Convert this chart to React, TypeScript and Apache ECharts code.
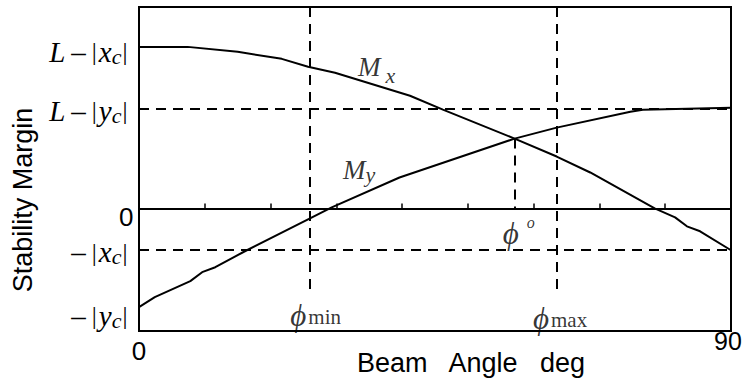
import React, { useEffect, useRef } from 'react';
import * as echarts from 'echarts';

const SERIF = "'Liberation Serif', 'Times New Roman', 'DejaVu Serif', serif";
const SANS = "'Liberation Sans', Arial, Helvetica, sans-serif";
const INK = '#000';

// Axis extents (beam angle in degrees, margin in drawing units)
const ANGLE_MIN = 0;
const ANGLE_MAX = 90;
const MARGIN_MIN = -123;
const MARGIN_MAX = 202;

// Reference margin levels
const L_MINUS_XC = 162; // L − |xc|
const L_MINUS_YC = 100; // L − |yc|
const MINUS_XC = -42;   // −|xc|
const MINUS_YC = -99;   // −|yc|

// Characteristic angles
const PHI_MIN = 26;
const PHI_MAX = 63.5;
const PHI_O = 57.1;
const CROSS_MARGIN = 70;   // where Mx meets My
const PHI_DASH_END = -81;  // lower end of the φmin / φmax guides

// Stability margin about x
const angleMx = [0, 7.4, 15, 21.7, 25.7, 29.8, 41.2, 46.2, 57.1, 63.5, 68.6, 78.4, 81.5, 83.3, 85.3, 90];
const marginMx = [162, 162, 157, 150, 142, 136, 113, 99, 70, 52, 36, 0, -9, -18, -23, -42];

// Stability margin about y
const angleMy = [0, 2.4, 7.8, 9.6, 11.6, 16.1, 26.0, 29.3, 39.6, 57.1, 63.5, 74.7, 76.6, 90];
const marginMy = [-99, -89, -73, -64, -59, -43, -10, 1, 31, 70, 81, 97, 99, 101];

// Y tick labels (rich-text tokens) and their small downward drop in px
const yTickValues = [L_MINUS_XC, L_MINUS_YC, 0, MINUS_XC, MINUS_YC];
const yTickTokens: [string, string][][] = [
  [['it', 'L'], ['op', '–'], ['bar', '|'], ['it', 'x'], ['sub', 'c'], ['end', '|']],
  [['it', 'L'], ['op', '–'], ['bar', '|'], ['it', 'y'], ['sub', 'c'], ['end', '|']],
  [['num', '0']],
  [['op', '–'], ['bar', '|'], ['it', 'x'], ['sub', 'c'], ['end', '|']],
  [['op', '–'], ['bar', '|'], ['it', 'y'], ['sub', 'c'], ['end', '|']],
];
const yTickDrop = [5, 2, 8.5, 2, 8.5];

// Curve / angle annotations
const noteText = [
  '{M|M}{sx|x}',
  '{M|M}{sy|y}',
  '{phi|ϕ}{sup|o}',
  '{phi|ϕ}{lim|min}',
  '{phi|ϕ}{lim|max}',
];
const noteAngle = [33.3, 31.0, 55.3, 23.0, 59.9];
const noteMargin = [142, 38, -25, -107, -110];

const richY: Record<string, any> = {};
yTickDrop.forEach((d, i) => {
  const p = 2 * d;
  richY['it' + i] = { fontFamily: SERIF, fontStyle: 'italic', fontSize: 29, color: INK, padding: [p, 0, 0, 0] };
  richY['op' + i] = { fontFamily: SERIF, fontSize: 29, color: INK, padding: [p, 6, 0, 6] };
  richY['bar' + i] = { fontFamily: SERIF, fontSize: 25, color: INK, padding: [p, 2, 0, 0] };
  richY['sub' + i] = { fontFamily: SERIF, fontStyle: 'italic', fontSize: 22, color: INK, padding: [p + 9, 1, 0, 0] };
  richY['end' + i] = { fontFamily: SERIF, fontSize: 25, color: INK, padding: [p, 6, 0, 0] };
  richY['num' + i] = { fontFamily: SANS, fontSize: 26, color: INK, padding: [p, 0, 0, 0] };
});

const formatYTick = (value: number) => {
  const i = yTickValues.indexOf(value);
  if (i < 0) return '';
  return yTickTokens[i].map(([s, t]) => `{${s}${i}|${t}}`).join('');
};

const dashed = { color: INK, width: 2, type: [10, 7] as number[] };

const option: echarts.EChartsOption = {
  animation: false,
  backgroundColor: '#fff',
  grid: {
    left: 139,
    right: 18,
    top: 7,
    bottom: 50,
    outerBoundsMode: 'none',
    containLabel: false,
    show: true,
    borderColor: INK,
    borderWidth: 2,
    backgroundColor: 'transparent',
  } as any,
  xAxis: [
    {
      type: 'value',
      min: ANGLE_MIN,
      max: ANGLE_MAX,
      interval: 90,
      position: 'bottom',
      axisLine: { show: true, onZero: false, lineStyle: { color: INK, width: 2 } },
      axisTick: { show: false },
      splitLine: { show: false },
      axisLabel: {
        margin: -3,
        formatter: (v: number) => (v === ANGLE_MIN ? `{lo|${v}}` : `{hi|${v}}`),
        rich: {
          lo: { fontFamily: SANS, fontSize: 26, color: INK, padding: [10, 0, 0, 0] },
          hi: { fontFamily: SANS, fontSize: 25, color: INK, padding: [0, 6, 0, 0] },
        },
      },
      name: 'Beam   Angle   deg',
      nameLocation: 'middle',
      nameGap: 18,
      nameMoveOverlap: false,
      nameTextStyle: { fontFamily: SANS, fontSize: 27, color: INK, padding: [0, 0, 0, 72] },
    } as any,
    {
      // zero line with its angle ticks
      type: 'value',
      min: ANGLE_MIN,
      max: ANGLE_MAX,
      interval: 10,
      position: 'top',
      axisLine: { show: true, onZero: true, lineStyle: { color: INK, width: 2 } },
      axisTick: { show: true, inside: false, length: 5, lineStyle: { color: INK, width: 1.5 } },
      axisLabel: { show: false },
      splitLine: { show: false },
    },
  ],
  yAxis: {
    type: 'value',
    min: MARGIN_MIN,
    max: MARGIN_MAX,
    axisLine: { show: true, onZero: false, lineStyle: { color: INK, width: 2 } },
    axisTick: { show: false },
    splitLine: { show: false },
    axisLabel: {
      customValues: yTickValues,
      margin: 5.5,
      formatter: formatYTick,
      rich: richY,
    },
    name: 'Stability Margin',
    nameLocation: 'middle',
    nameGap: 103,
    nameMoveOverlap: false,
    nameTextStyle: { fontFamily: SANS, fontSize: 27, color: INK, padding: [0, 62, 0, 0] },
  } as any,
  series: [
    {
      name: 'Mx',
      type: 'line',
      xAxisIndex: 0,
      data: angleMx.map((a, i) => [a, marginMx[i]]),
      showSymbol: false,
      symbol: 'none',
      lineStyle: { color: INK, width: 2 },
      z: 3,
      markLine: {
        silent: true,
        symbol: ['none', 'none'],
        label: { show: false },
        lineStyle: dashed,
        data: [
          { yAxis: L_MINUS_YC },
          { yAxis: MINUS_XC },
          [{ coord: [PHI_MIN, MARGIN_MAX] }, { coord: [PHI_MIN, PHI_DASH_END] }],
          [{ coord: [PHI_MAX, MARGIN_MAX] }, { coord: [PHI_MAX, PHI_DASH_END] }],
          [{ coord: [PHI_O, CROSS_MARGIN] }, { coord: [PHI_O, 0] }],
        ] as any,
      },
    },
    {
      name: 'My',
      type: 'line',
      xAxisIndex: 0,
      data: angleMy.map((a, i) => [a, marginMy[i]]),
      showSymbol: false,
      symbol: 'none',
      lineStyle: { color: INK, width: 2 },
      z: 3,
    },
    {
      name: 'notes',
      type: 'scatter',
      xAxisIndex: 0,
      symbolSize: 0,
      silent: true,
      z: 4,
      data: noteAngle.map((a, i) => [a, noteMargin[i]]),
      label: {
        show: true,
        position: 'right',
        distance: 0,
        formatter: (p: any) => noteText[p.dataIndex],
        rich: {
          M: { fontFamily: SERIF, fontStyle: 'italic', fontSize: 27, color: INK },
          sx: { fontFamily: SERIF, fontStyle: 'italic', fontSize: 22, color: INK, padding: [17, 0, 0, 5] },
          sy: { fontFamily: SERIF, fontStyle: 'italic', fontSize: 22, color: INK, padding: [8, 0, 0, 0] },
          phi: { fontFamily: SERIF, fontStyle: 'italic', fontSize: 31, color: INK },
          sup: { fontFamily: SERIF, fontStyle: 'italic', fontSize: 16, color: INK, padding: [0, 0, 21, 8] },
          lim: { fontFamily: SERIF, fontSize: 21, color: INK, padding: [4, 0, 0, 2] },
        },
      },
    },
  ],
};

export default function App() {
  const ref = useRef<HTMLDivElement>(null);
  useEffect(() => {
    const chart = echarts.init(ref.current!, null, { renderer: 'svg' });
    chart.setOption(option);
    return () => chart.dispose();
  }, []);
  return (
    <div
      ref={ref}
      style={{ position: 'fixed', left: 0, top: 0, width: 749, height: 381, background: '#fff' }}
    />
  );
}
